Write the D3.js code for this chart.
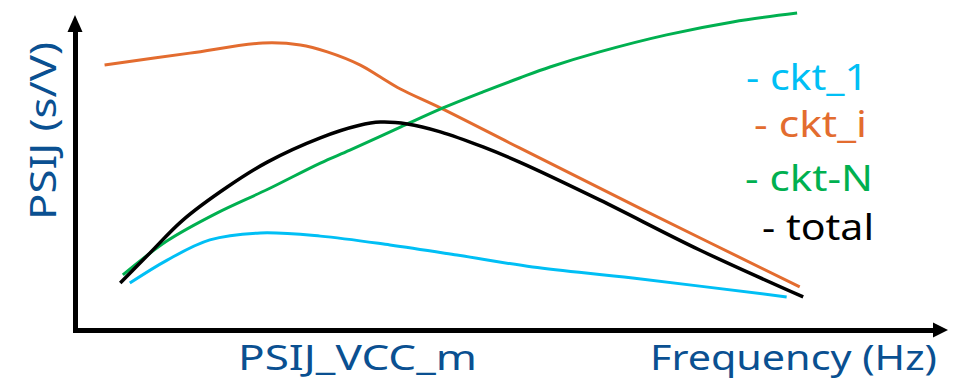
<!DOCTYPE html>
<html><head><meta charset="utf-8">
<script src="https://cdn.jsdelivr.net/npm/d3@7"></script>
<style>html,body{margin:0;padding:0;background:#fff;} svg{display:block;}</style>
</head><body><svg id="c" width="972" height="384"></svg>
<script>
// ---- data ----
const seriesNames = ["ckt_1", "ckt_i", "ckt-N", "total"];
const legendLabels = ["- ckt_1", "- ckt_i", "- ckt-N", "- total"];
const xAxisLabels = ["PSIJ_VCC_m", "Frequency (Hz)"];
const yAxisLabel = "PSIJ (s/V)";

const ckt1X = [6.3, 10.6, 15.5, 21.3, 28.2, 36.2, 43.9, 52.6, 64.1, 81.8];
const ckt1Y = [14.9, 22.2, 28.6, 30.8, 29.8, 27.0, 23.8, 20.0, 16.5, 10.5];
const cktiX = [3.4, 13.2, 21.6, 25.9, 29.0, 32.8, 35.1, 37.4, 42.0, 51.1, 64.9, 83.3];
const cktiY = [84.1, 87.9, 91.1, 90.5, 88.3, 84.1, 80.3, 76.5, 70.5, 57.8, 38.7, 13.7];
const cktNX = [5.5, 10.6, 16.3, 22.1, 28.2, 31.6, 37.4, 42.3, 46.9, 51.1, 54.6, 60.3, 68.0, 75.6, 83.0];
const cktNY = [17.5, 28.3, 37.1, 44.6, 53.0, 57.1, 64.4, 70.5, 75.6, 80.0, 83.5, 88.3, 93.7, 97.8, 100.6];
const totalX = [5.2, 8.6, 12.4, 17.5, 22.1, 28.2, 32.6, 35.1, 38.2, 42.0, 46.9, 51.1, 60.3, 71.8, 83.7];
const totalY = [14.9, 24.4, 34.9, 45.4, 53.3, 61.0, 64.9, 66.0, 65.4, 62.9, 58.1, 53.3, 41.3, 25.4, 10.5];

const colors = {"ckt_1": "#00bff5", "ckt_i": "#e36c2f", "ckt-N": "#00b050", "total": "#000000"};
const textBlue = "#0a5091";
const font = "'Noto Sans', 'Open Sans', sans-serif";

// ---- scales ----
const x = d3.scaleLinear().domain([0, 100]).range([75, 945]);
const y = d3.scaleLinear().domain([0, 100]).range([330, 15]);

const svg = d3.select("#c");

// ---- axes (no ticks, arrow heads) ----
const xAxisScale = d3.scaleLinear().domain([0, 100]).range([x(0) - 2.5, 934]);
const yAxisScale = d3.scaleLinear().domain([0, 100]).range([y(0) + 2.5, 31]);

const gx = svg.append("g").attr("transform", `translate(0,${y(0)})`)
  .call(d3.axisBottom(xAxisScale).tickValues([]).tickSizeOuter(0));
const gy = svg.append("g").attr("transform", `translate(${x(0)},0)`)
  .call(d3.axisLeft(yAxisScale).tickValues([]).tickSizeOuter(0));
[gx, gy].forEach(g => g.select(".domain").attr("stroke", "#000").attr("stroke-width", 5));

svg.append("path")
  .attr("d", `M${x(100) + 3},${y(0)} L${x(100) - 12},${y(0) - 7.5} L${x(100) - 12},${y(0) + 7.5} Z`)
  .attr("fill", "#000");
svg.append("path")
  .attr("d", `M${x(0)},${y(100)} L${x(0) - 7.5},${y(100) + 17} L${x(0) + 7.5},${y(100) + 17} Z`)
  .attr("fill", "#000");

// ---- lines ----
const seriesData = {
  "ckt_1": d3.zip(ckt1X, ckt1Y),
  "ckt_i": d3.zip(cktiX, cktiY),
  "ckt-N": d3.zip(cktNX, cktNY),
  "total": d3.zip(totalX, totalY)
};
const line = d3.line().x(d => x(d[0])).y(d => y(d[1])).curve(d3.curveCatmullRom.alpha(0.5));
["ckt_1", "ckt_i", "ckt-N", "total"].forEach(name => {
  svg.append("path")
    .datum(seriesData[name])
    .attr("d", line)
    .attr("fill", "none")
    .attr("stroke", colors[name])
    .attr("stroke-width", name === "total" ? 3.5 : 3);
});

// ---- legend (text only) ----
const legendPos = [[746, 90, 122], [754, 137, 113], [745, 191, 128], [762, 240, 112]];
seriesNames.forEach((name, i) => {
  svg.append("text")
    .attr("x", legendPos[i][0]).attr("y", legendPos[i][1])
    .attr("textLength", legendPos[i][2]).attr("lengthAdjust", "spacingAndGlyphs")
    .attr("font-family", font).attr("font-size", 36)
    .attr("fill", colors[name])
    .text(legendLabels[i]);
});

// ---- axis titles ----
svg.append("text")
  .attr("transform", "translate(56,131) rotate(-90)")
  .attr("text-anchor", "middle")
  .attr("textLength", 178).attr("lengthAdjust", "spacingAndGlyphs")
  .attr("font-family", font).attr("font-size", 37)
  .attr("fill", textBlue)
  .text(yAxisLabel);

svg.append("text")
  .attr("x", 238).attr("y", 370)
  .attr("textLength", 239).attr("lengthAdjust", "spacingAndGlyphs")
  .attr("font-family", font).attr("font-size", 35)
  .attr("fill", textBlue)
  .text(xAxisLabels[0]);
svg.append("text")
  .attr("x", 650).attr("y", 370)
  .attr("textLength", 287).attr("lengthAdjust", "spacingAndGlyphs")
  .attr("font-family", font).attr("font-size", 35)
  .attr("fill", textBlue)
  .text(xAxisLabels[1]);
</script>
</body></html>
